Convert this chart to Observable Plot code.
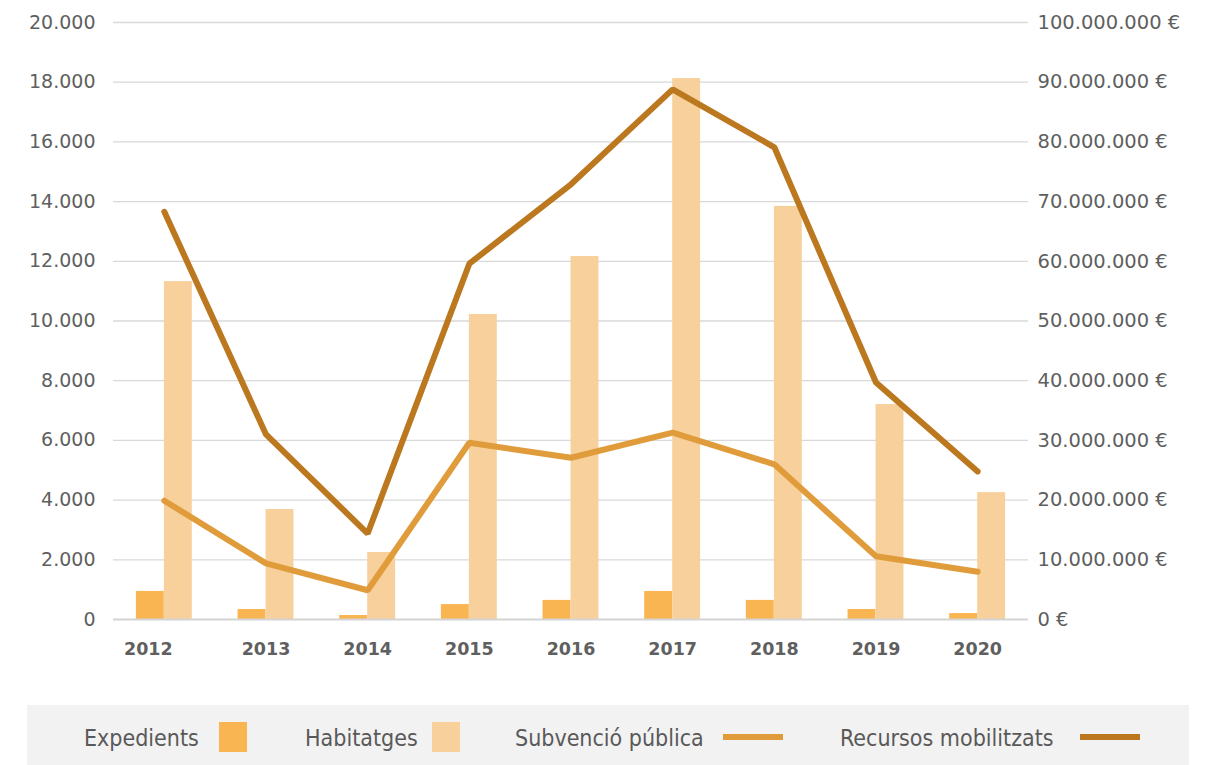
<!DOCTYPE html>
<html>
<head>
<meta charset="utf-8">
<script src="https://cdn.jsdelivr.net/npm/d3@7"></script>
<script src="https://cdn.jsdelivr.net/npm/@observablehq/plot@0.6"></script>
<style>
  body { margin: 0; background: #fff; }
  #wrap { position: relative; width: 1224px; height: 765px; }
  #legend { position: absolute; left: 27px; top: 705px; width: 1162px; height: 60px; background: #f2f2f2;
            font-family: "Liberation Sans Narrow", "DejaVu Sans Condensed", sans-serif; font-size: 23px; color: #595959; }
  .lt { position: absolute; top: 3px; line-height: 60px; white-space: nowrap; }
  .sw { position: absolute; }
</style>
</head>
<body>
<div id="wrap">
  <div id="chart"></div>
  <div id="legend"></div>
</div>
<script>
const years = ["2012", "2013", "2014", "2015", "2016", "2017", "2018", "2019", "2020"];
const expedients = [940, 335, 134, 500, 640, 940, 640, 335, 200];
const habitatges = [11320, 3685, 2245, 10220, 12160, 18120, 13840, 7200, 4250];
const subvencio = [19900000, 9400000, 4900000, 29600000, 27100000, 31300000, 26000000, 10600000, 8000000];
const recursos = [68300000, 31000000, 14400000, 59600000, 72900000, 88800000, 79100000, 39700000, 24800000];
const leftTicks = [0, 2000, 4000, 6000, 8000, 10000, 12000, 14000, 16000, 18000, 20000];
const rightTicks = [0, 10000000, 20000000, 30000000, 40000000, 50000000, 60000000, 70000000, 80000000, 90000000, 100000000];
const seriesNames = ["Expedients", "Habitatges", "Subvenció pública", "Recursos mobilitzats"];
const colors = ["#F9B551", "#F8D09B", "#E09C3B", "#BC781F"];

const ratio = 100000000 / 20000;
const locale = d3.formatLocale({decimal: ",", thousands: ".", grouping: [3], currency: ["", " €"]});
const fmt = locale.format(",");

const rows = years.map((y, i) => ({year: y, exp: expedients[i], hab: habitatges[i], sub: subvencio[i] / ratio, rec: recursos[i] / ratio}));

const font = "'DejaVu Sans', sans-serif";
const chart = Plot.plot({
  width: 1224, height: 700,
  marginLeft: 113, marginRight: 196, marginTop: 22, marginBottom: 81,
  style: {fontFamily: font, fontSize: "19px", color: "#5f5f5f", background: "white"},
  x: {type: "band", domain: years, paddingInner: 0.45, paddingOuter: 0.225, round: false},
  y: {domain: [0, 20000]},
  marks: [
    Plot.ruleY(leftTicks.slice(1), {stroke: "#d9d9d9", strokeWidth: 1.3}),
    Plot.axisY({ticks: leftTicks, tickFormat: fmt, tickSize: 0, tickPadding: 18, label: null, fontSize: 19}),
    Plot.axisY({anchor: "right", ticks: rightTicks.map(v => v / ratio), tickFormat: v => fmt(Math.round(v * ratio)) + " €", tickSize: 0, tickPadding: 9, label: null, fontSize: 19.5}),
    Plot.barY(rows, {x: "year", y: "exp", fill: colors[0], insetRight: 28}),
    Plot.barY(rows, {x: "year", y: "hab", fill: colors[1], insetLeft: 28}),
    Plot.ruleY([0], {stroke: "#d4d4d4", strokeWidth: 2}),
    Plot.lineY(rows, {x: "year", y: "sub", stroke: colors[2], strokeWidth: 6, strokeLinejoin: "miter", strokeLinecap: "round"}),
    Plot.lineY(rows, {x: "year", y: "rec", stroke: colors[3], strokeWidth: 6, strokeLinejoin: "miter", strokeLinecap: "round"}),
    Plot.axisX({ticks: years.slice(0, 1), dx: -16, tickSize: 0, tickPadding: 23, fontWeight: "bold", fontSize: 17.5, label: null}),
    Plot.axisX({ticks: years.slice(1), tickSize: 0, tickPadding: 23, fontWeight: "bold", fontSize: 17.5, label: null})
  ]
});
document.getElementById("chart").appendChild(chart);

// legend
const legend = document.getElementById("legend");
const textX = [57, 278, 488, 813];
const swX = [192, 405, 696, 1053];
seriesNames.forEach((name, i) => {
  const t = document.createElement("div");
  t.className = "lt";
  t.style.left = textX[i] + "px";
  t.textContent = name;
  legend.appendChild(t);
  const s = document.createElement("div");
  s.className = "sw";
  s.style.left = swX[i] + "px";
  s.style.background = colors[i];
  if (i < 2) { s.style.top = "17px"; s.style.width = "28px"; s.style.height = "30px"; }
  else { s.style.top = "29px"; s.style.width = "60px"; s.style.height = "6px"; }
  legend.appendChild(s);
});
</script>
</body>
</html>
